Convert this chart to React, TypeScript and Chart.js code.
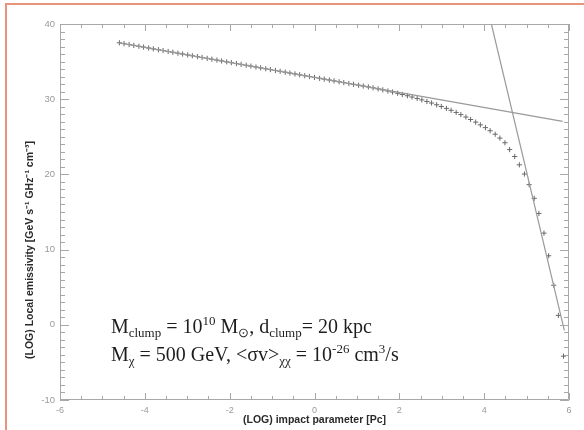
import React, { useEffect, useRef } from "react";
import { Chart, registerables } from "chart.js";

Chart.register(...registerables);

// ---- data -------------------------------------------------------------
const impactLog = [
  -4.6, -4.49, -4.37, -4.26, -4.14, -4.03, -3.91, -3.8, -3.68, -3.57,
  -3.45, -3.34, -3.22, -3.11, -2.99, -2.88, -2.76, -2.65, -2.53, -2.42,
  -2.3, -2.19, -2.07, -1.96, -1.84, -1.73, -1.61, -1.5, -1.38, -1.27,
  -1.15, -1.04, -0.92, -0.81, -0.69, -0.58, -0.46, -0.35, -0.23, -0.12,
  0.0, 0.12, 0.23, 0.35, 0.46, 0.58, 0.69, 0.81, 0.92, 1.04,
  1.15, 1.27, 1.38, 1.5, 1.61, 1.73, 1.84, 1.96, 2.07, 2.19,
  2.3, 2.42, 2.53, 2.65, 2.76, 2.88, 2.99, 3.11, 3.22, 3.34,
  3.45, 3.57, 3.68, 3.8, 3.91, 4.03, 4.14, 4.26, 4.37, 4.49,
  4.6, 4.72, 4.83, 4.95, 5.06, 5.18, 5.29, 5.41, 5.52, 5.64,
  5.75, 5.87,
];
const emissivity = [
  37.5, 37.39, 37.27, 37.16, 37.04, 36.93, 36.81, 36.7, 36.58, 36.47,
  36.35, 36.24, 36.12, 36.01, 35.89, 35.78, 35.66, 35.55, 35.43, 35.32,
  35.2, 35.09, 34.97, 34.86, 34.74, 34.63, 34.51, 34.4, 34.28, 34.17,
  34.05, 33.94, 33.82, 33.71, 33.59, 33.48, 33.36, 33.25, 33.13, 33.02,
  32.9, 32.78, 32.67, 32.55, 32.44, 32.32, 32.21, 32.09, 31.98, 31.86,
  31.75, 31.63, 31.52, 31.37, 31.24, 31.09, 30.95, 30.79, 30.63, 30.46,
  30.29, 30.1, 29.91, 29.7, 29.49, 29.26, 29.03, 28.78, 28.52, 28.24,
  27.95, 27.63, 27.3, 26.95, 26.59, 26.22, 25.81, 25.34, 24.83, 24.21,
  23.3, 22.38, 21.27, 20.05, 18.64, 16.82, 14.81, 12.19, 9.18, 5.26,
  1.25, -4.17,
];
const innerFitX = [-4.6, 5.85];
const innerFitY = [37.5, 27.05];
const outerFitX = [4.17, 5.89];
const outerFitY = [40, -0.75];

const xTickValues = [-6, -4, -2, 0, 2, 4, 6];
const yTickValues = [-10, 0, 10, 20, 30, 40];
const xTitle = "(LOG) impact parameter [Pc]";
const yTitle = "(LOG) Local emissivity [GeV s\u207B\u00B9 GHz\u207B\u00B9 cm\u207B\u00B3]";

// text runs: [text, kind] kind: n = normal, b = subscript, p = superscript
const noteLine1: [string, string][] = [
  ["M", "n"], ["clump", "b"], [" = 10", "n"], ["10", "p"], [" M", "n"], ["\u2299", "b"],
  [", d", "n"], ["clump", "b"], ["= 20 kpc", "n"],
];
const noteLine2: [string, string][] = [
  ["M", "n"], ["\u03C7", "b"], [" = 500 GeV, <\u03C3v>", "n"], ["\u03C7\u03C7", "b"],
  [" = 10", "n"], ["-26", "p"], [" cm", "n"], ["3", "p"], ["/s", "n"],
];

// ---- component --------------------------------------------------------
export default function App() {
  const ref = useRef<HTMLCanvasElement | null>(null);

  useEffect(() => {
    const canvas = ref.current;
    if (!canvas) return;

    const framePlugin = {
      id: "idlFrame",
      afterDatasetsDraw(chart: any) {
        const { ctx, chartArea: a, scales } = chart;
        const xs = scales.x;
        const ys = scales.y;
        ctx.save();
        ctx.strokeStyle = "#a8a8a8";
        ctx.lineWidth = 1;
        ctx.beginPath();
        ctx.rect(a.left + 0.5, a.top + 0.5, a.right - a.left - 1, a.bottom - a.top - 1);
        ctx.stroke();
        ctx.beginPath();
        // x ticks every 0.5, major every 2
        for (let v = -6; v <= 6.001; v += 0.5) {
          const px = Math.round(xs.getPixelForValue(v)) + 0.5;
          const major = Math.abs(v / 2 - Math.round(v / 2)) < 1e-6;
          const len = major ? 7 : 4;
          ctx.moveTo(px, a.bottom);
          ctx.lineTo(px, a.bottom - len);
          ctx.moveTo(px, a.top);
          ctx.lineTo(px, a.top + len);
        }
        for (let v = -10; v <= 40.001; v += 1) {
          const py = Math.round(ys.getPixelForValue(v)) + 0.5;
          const major = Math.abs(v / 10 - Math.round(v / 10)) < 1e-6;
          const len = major ? 9 : 5;
          ctx.moveTo(a.left, py);
          ctx.lineTo(a.left + len, py);
          ctx.moveTo(a.right, py);
          ctx.lineTo(a.right - len, py);
        }
        ctx.stroke();

        // axis titles
        ctx.fillStyle = "#2a2a2a";
        ctx.font = 'bold 10.5px "Liberation Sans", Arial, sans-serif';
        ctx.textAlign = "center";
        ctx.textBaseline = "middle";
        ctx.fillText(xTitle, (a.left + a.right) / 2, 420);
        ctx.save();
        ctx.translate(30, 250);
        ctx.rotate(-Math.PI / 2);
        ctx.fillText(yTitle, 0, 0);
        ctx.restore();

        // annotation
        const drawRuns = (runs: [string, string][], x0: number, base: number) => {
          let x = x0;
          ctx.textAlign = "left";
          ctx.textBaseline = "alphabetic";
          ctx.fillStyle = "#1e1e1e";
          for (const [t, k] of runs) {
            const size = k === "n" ? 20 : 13;
            const dy = k === "b" ? 4 : k === "p" ? -8 : 0;
            ctx.font = `${size}px "Liberation Serif", "Times New Roman", serif`;
            ctx.fillText(t, x, base + dy);
            x += ctx.measureText(t).width;
          }
        };
        const nx = xs.getPixelForValue(-4.8);
        drawRuns(noteLine1, nx, ys.getPixelForValue(-1.1));
        drawRuns(noteLine2, nx, ys.getPixelForValue(-4.8));
        ctx.restore();
      },
    };

    const chart = new Chart(canvas, {
      type: "scatter",
      data: {
        datasets: [
          {
            label: "outer fit",
            data: outerFitX.map((x, i) => ({ x, y: outerFitY[i] })),
            showLine: true,
            borderColor: "#9a9a9a",
            borderWidth: 1.2,
            pointRadius: 0,
          },
          {
            label: "inner fit",
            data: innerFitX.map((x, i) => ({ x, y: innerFitY[i] })),
            showLine: true,
            borderColor: "#9a9a9a",
            borderWidth: 1.2,
            pointRadius: 0,
          },
          {
            label: "emissivity",
            data: impactLog.map((x, i) => ({ x, y: emissivity[i] })),
            showLine: false,
            pointStyle: "cross",
            pointRadius: 2.6,
            borderColor: "#6a6a6a",
            backgroundColor: "#6a6a6a",
            pointBorderWidth: 1,
          },
        ],
      },
      options: {
        responsive: false,
        animation: false,
        events: [],
        layout: { padding: { top: 24, right: 15, left: 0, bottom: 0 } },
        plugins: { legend: { display: false }, tooltip: { enabled: false } },
        scales: {
          x: {
            type: "linear",
            min: -6,
            max: 6,
            grid: { display: false, drawTicks: false },
            border: { display: false },
            afterBuildTicks: (s: any) => {
              s.ticks = xTickValues.map((v) => ({ value: v }));
            },
            afterFit: (s: any) => {
              s.height = 30;
            },
            ticks: {
              padding: 5,
              color: "#9a9a9a",
              font: { family: '"Liberation Sans", Arial, sans-serif', size: 9 },
              maxRotation: 0,
            },
          },
          y: {
            type: "linear",
            min: -10,
            max: 40,
            grid: { display: false, drawTicks: false },
            border: { display: false },
            afterBuildTicks: (s: any) => {
              s.ticks = yTickValues.map((v) => ({ value: v }));
            },
            afterFit: (s: any) => {
              s.width = 60;
            },
            ticks: {
              padding: 5,
              color: "#9a9a9a",
              font: { family: '"Liberation Sans", Arial, sans-serif', size: 9.5 },
            },
          },
        },
      },
      plugins: [framePlugin],
    });
    return () => chart.destroy();
  }, []);

  return (
    <div style={{ position: "fixed", left: 0, top: 0, width: 584, height: 430, background: "#fff", overflow: "hidden" }}>
      <canvas ref={ref} width={584} height={430} style={{ position: "absolute", left: 0, top: 0 }} />
      <div
        style={{
          position: "absolute",
          left: 5,
          top: 3,
          width: 600,
          height: 440,
          borderTop: "2px solid #e8937c",
          borderLeft: "2px solid #e8937c",
          pointerEvents: "none",
        }}
      />
    </div>
  );
}
